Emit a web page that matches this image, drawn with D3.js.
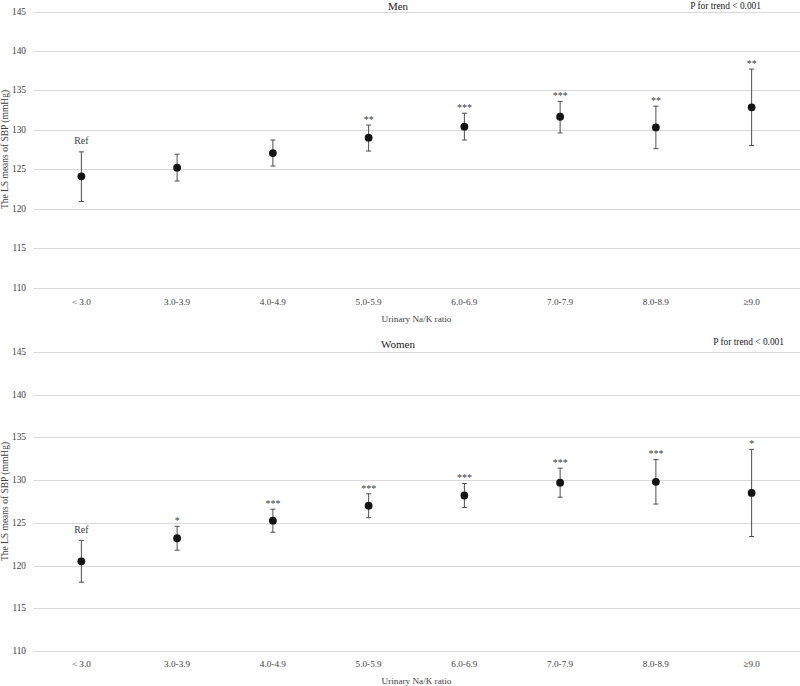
<!DOCTYPE html>
<html>
<head>
<meta charset="utf-8">
<script src="https://cdn.jsdelivr.net/npm/d3@7"></script>
<style>
  body { margin: 0; background: #fff; }
  svg { display: block; font-family: "Liberation Serif", "Times New Roman", serif; }
</style>
</head>
<body>
<div id="chart"></div>
<script>
const categories = ["< 3.0", "3.0-3.9", "4.0-4.9", "5.0-5.9", "6.0-6.9", "7.0-7.9", "8.0-8.9", "≥9.0"];
const yTicks = [110, 115, 120, 125, 130, 135, 140, 145];

const menMean  = [124.1, 125.2, 127.05, 129.0, 130.4, 131.65, 130.3, 132.85];
const menLower = [120.9, 123.5, 125.4, 127.3, 128.7, 129.6, 127.6, 128.0];
const menUpper = [127.2, 126.9, 128.7, 130.6, 132.1, 133.6, 133.0, 137.7];
const menSig   = ["Ref", "", "", "**", "***", "***", "**", "**"];

const womenMean  = [120.5, 123.2, 125.25, 127.0, 128.2, 129.7, 129.8, 128.5];
const womenLower = [118.05, 121.8, 123.9, 125.6, 126.8, 128.0, 127.2, 123.4];
const womenUpper = [122.95, 124.6, 126.6, 128.4, 129.6, 131.4, 132.4, 133.6];
const womenSig   = ["Ref", "*", "***", "***", "***", "***", "***", "*"];

const width = 800, height = 686;
const svg = d3.select("#chart").append("svg")
  .attr("width", width)
  .attr("height", height);

const x = d3.scalePoint()
  .domain(categories)
  .range([33.5, 799.5])
  .padding(0.5);

function drawPanel(opt) {
  const y = d3.scaleLinear().domain([110, 145]).range([opt.y0, opt.y1]);
  const g = svg.append("g");

  // gridlines
  g.selectAll("line.grid")
    .data(yTicks)
    .enter().append("line")
    .attr("x1", 33.5).attr("x2", 800)
    .attr("y1", d => Math.round(y(d)) + 0.5)
    .attr("y2", d => Math.round(y(d)) + 0.5)
    .attr("stroke", "#d9d9d9")
    .attr("stroke-width", 1);

  // y tick labels
  g.selectAll("text.ytick")
    .data(yTicks)
    .enter().append("text")
    .attr("x", 26)
    .attr("y", d => y(d))
    .attr("dy", "0.33em")
    .attr("text-anchor", "end")
    .attr("font-size", 9.3)
    .attr("fill", "#404040")
    .text(d => d);

  // x tick labels
  g.selectAll("text.xtick")
    .data(categories)
    .enter().append("text")
    .attr("x", d => x(d))
    .attr("y", opt.tickY)
    .attr("text-anchor", "middle")
    .attr("font-size", 9.2)
    .attr("fill", "#404040")
    .text(d => d);

  // axis titles
  g.append("text")
    .attr("x", 416.5)
    .attr("y", opt.axisTitleY)
    .attr("text-anchor", "middle")
    .attr("font-size", 9.2)
    .attr("fill", "#404040")
    .text("Urinary Na/K ratio");

  g.append("text")
    .attr("transform", `translate(8,${(opt.y0 + opt.y1) / 2}) rotate(-90)`)
    .attr("text-anchor", "middle")
    .attr("font-size", 9.5)
    .attr("fill", "#404040")
    .text("The LS means of SBP (mmHg)");

  // panel title and trend
  g.append("text")
    .attr("x", 398)
    .attr("y", opt.titleY)
    .attr("text-anchor", "middle")
    .attr("font-size", 11)
    .attr("fill", "#222")
    .text(opt.title);

  g.append("text")
    .attr("x", opt.trendX)
    .attr("y", opt.trendY)
    .attr("text-anchor", "end")
    .attr("font-size", 9.4)
    .attr("fill", "#222")
    .text("P for trend < 0.001");

  const rows = categories.map((c, i) => ({
    cat: c, mean: opt.mean[i], lo: opt.lower[i], hi: opt.upper[i], sig: opt.sig[i]
  }));

  // error bars
  const eb = g.selectAll("g.eb").data(rows).enter().append("g")
    .attr("stroke", "#4d4d4d").attr("stroke-width", 1);
  eb.append("line")
    .attr("x1", d => x(d.cat)).attr("x2", d => x(d.cat))
    .attr("y1", d => y(d.lo)).attr("y2", d => y(d.hi));
  eb.append("line")
    .attr("x1", d => x(d.cat) - 2.5).attr("x2", d => x(d.cat) + 2.5)
    .attr("y1", d => y(d.lo)).attr("y2", d => y(d.lo));
  eb.append("line")
    .attr("x1", d => x(d.cat) - 2.5).attr("x2", d => x(d.cat) + 2.5)
    .attr("y1", d => y(d.hi)).attr("y2", d => y(d.hi));

  // points
  g.selectAll("circle.pt").data(rows).enter().append("circle")
    .attr("cx", d => x(d.cat))
    .attr("cy", d => y(d.mean))
    .attr("r", 3.9)
    .attr("fill", "#141414");

  // significance labels
  g.selectAll("text.sig").data(rows.filter(d => d.sig)).enter().append("text")
    .attr("x", d => x(d.cat))
    .attr("y", d => y(d.hi) - (d.sig === "Ref" ? 7.5 : 2.2))
    .attr("text-anchor", "middle")
    .attr("font-size", d => d.sig === "Ref" ? 9.8 : 10)
    .attr("fill", "#404040")
    .text(d => d.sig);
}

drawPanel({
  y0: 287.5, y1: 11.5,
  mean: menMean, lower: menLower, upper: menUpper, sig: menSig,
  title: "Men", titleY: 9.5,
  trendX: 761, trendY: 9,
  tickY: 304.5, axisTitleY: 321.5
});

drawPanel({
  y0: 651, y1: 352,
  mean: womenMean, lower: womenLower, upper: womenUpper, sig: womenSig,
  title: "Women", titleY: 348,
  trendX: 784, trendY: 344.5,
  tickY: 667, axisTitleY: 684
});
</script>
</body>
</html>
